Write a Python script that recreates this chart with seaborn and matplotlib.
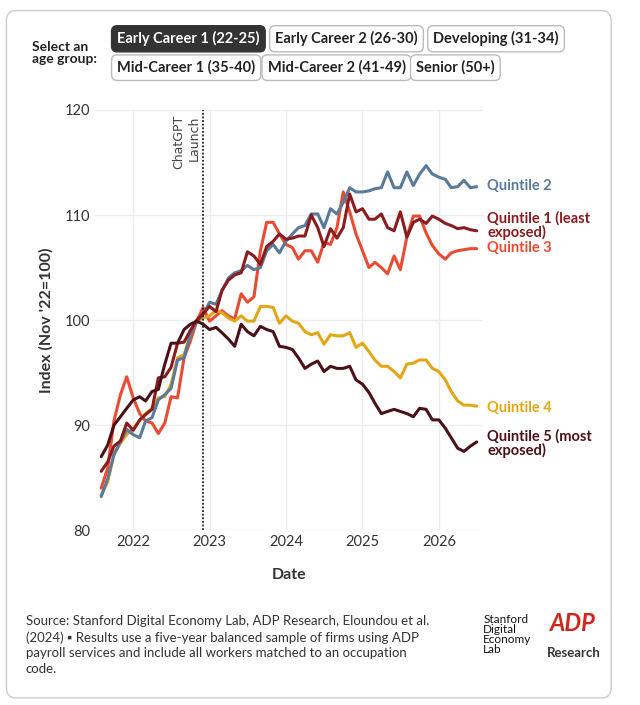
import numpy as np
import pandas as pd
import matplotlib.pyplot as plt
import seaborn as sns
from matplotlib.patches import FancyBboxPatch

# Monthly index values, Aug 2021 - Jul 2026
q1 = [85.6, 86.5, 88.0, 88.5, 90.2, 89.5, 90.5, 91.0, 91.5, 94.5,
      94.6, 95.5, 97.8, 97.9, 99.0, 100.0, 100.6, 101.3, 100.8, 102.8,
      103.8, 104.3, 104.5, 106.5, 106.1, 105.3, 107.0, 107.5, 108.2, 107.7,
      107.8, 108.0, 108.0, 110.0, 108.8, 107.0, 108.7, 107.8, 108.8, 112.0,
      110.3, 110.6, 109.6, 109.6, 110.1, 108.8, 108.5, 110.3, 107.9, 109.3,
      109.6, 109.2, 109.9, 109.6, 109.2, 109.0, 108.7, 108.8, 108.6, 108.5]
q2 = [83.2, 84.9, 87.2, 88.4, 89.6, 89.1, 88.8, 90.4, 90.7, 92.4,
      92.9, 93.5, 96.2, 96.4, 98.6, 99.9, 100.5, 101.7, 101.5, 102.8,
      104.0, 104.5, 104.7, 105.2, 104.8, 105.0, 106.6, 107.2, 106.4, 107.5,
      108.2, 108.8, 109.0, 110.1, 110.1, 108.8, 110.6, 110.1, 111.2, 112.6,
      112.2, 112.2, 112.3, 112.5, 112.6, 114.1, 112.6, 112.6, 114.1, 112.8,
      113.9, 114.7, 113.9, 113.6, 113.4, 112.6, 112.7, 113.3, 112.6, 112.7]
q3 = [84.0, 85.9, 90.4, 92.9, 94.6, 92.6, 91.1, 90.4, 90.2, 89.2,
      90.2, 92.7, 92.6, 96.4, 98.0, 99.9, 101.2, 99.9, 100.4, 100.9,
      100.4, 100.1, 102.5, 101.7, 102.2, 106.6, 109.3, 109.3, 108.2, 107.2,
      106.9, 105.8, 106.6, 106.6, 105.5, 107.4, 107.2, 108.8, 112.2, 110.3,
      108.2, 106.6, 105.0, 105.5, 105.0, 104.4, 106.1, 104.8, 107.9, 109.9,
      109.9, 108.3, 107.1, 106.3, 105.8, 106.4, 106.6, 106.7, 106.8, 106.8]
q4 = [83.3, 84.6, 87.2, 88.3, 89.1, 89.7, 90.4, 91.1, 91.6, 92.6,
      92.7, 93.9, 96.4, 96.7, 98.6, 99.9, 100.2, 100.4, 100.9, 100.7,
      100.2, 99.9, 100.4, 99.9, 99.9, 101.3, 101.3, 101.2, 99.7, 100.4,
      99.9, 99.7, 98.9, 98.6, 98.8, 97.7, 98.6, 98.5, 98.5, 98.8,
      97.4, 97.8, 97.0, 96.2, 95.6, 95.6, 95.1, 94.5, 95.8, 95.9,
      96.2, 96.2, 95.4, 95.1, 94.3, 93.2, 92.3, 91.9, 91.9, 91.8]
q5 = [87.0, 88.1, 90.0, 90.8, 91.6, 92.4, 92.7, 92.3, 93.2, 93.4,
      95.8, 97.8, 97.8, 99.1, 99.6, 99.9, 99.6, 99.1, 99.3, 98.8,
      98.2, 97.5, 99.6, 98.9, 98.5, 99.4, 99.1, 98.9, 97.5, 97.4,
      97.2, 96.4, 95.4, 95.8, 96.1, 95.1, 95.6, 95.4, 95.4, 95.6,
      94.3, 93.9, 93.1, 92.1, 91.1, 91.3, 91.5, 91.3, 91.1, 90.8,
      91.6, 91.5, 90.5, 90.5, 89.7, 88.8, 87.8, 87.5, 88.0, 88.4]

series = {"Quintile 1": q1, "Quintile 2": q2, "Quintile 3": q3,
          "Quintile 4": q4, "Quintile 5": q5}
colors = {"Quintile 1": "#8a1b1e", "Quintile 2": "#5a7a9a", "Quintile 3": "#ea4b33",
          "Quintile 4": "#e3a716", "Quintile 5": "#4a1218"}
end_labels = {"Quintile 1": ("Quintile 1 (least\nexposed)", 109.0),
              "Quintile 2": ("Quintile 2", 112.8),
              "Quintile 3": ("Quintile 3", 106.9),
              "Quintile 4": ("Quintile 4", 91.6),
              "Quintile 5": ("Quintile 5 (most\nexposed)", 88.2)}
groups_row1 = ["Early Career 1 (22-25)", "Early Career 2 (26-30)", "Developing (31-34)"]
groups_row2 = ["Mid-Career 1 (35-40)", "Mid-Career 2 (41-49)", "Senior (50+)"]

frames = []
for name, vals in series.items():
    frames.append(pd.DataFrame({"Date": pd.date_range("2021-08-01", periods=len(vals), freq="MS"),
                                "Index": vals, "Quintile": name}))
df = pd.concat(frames)

sns.set_style("white")
plt.rcParams["font.family"] = ["Lato", "DejaVu Sans"]

fig = plt.figure(figsize=(6.4, 7.05), dpi=100)
fig.patches.append(FancyBboxPatch((0.01, 0.01), 0.945, 0.975, boxstyle="round,pad=0,rounding_size=0.015",
                                  transform=fig.transFigure, fc="white", ec="#cccccc", lw=1, zorder=-5))
ax = fig.add_axes([0.148, 0.248, 0.607, 0.596])
ax.patch.set_alpha(0)

# draw in order so darker lines are on top
order = ["Quintile 3", "Quintile 4", "Quintile 2", "Quintile 1", "Quintile 5"]
for name in order:
    sns.lineplot(data=df[df["Quintile"] == name], x="Date", y="Index", color=colors[name],
                 lw=2.2, ax=ax, legend=False)

ax.set_ylim(80, 120)
ax.set_xlim(pd.Timestamp("2021-07-01"), pd.Timestamp("2026-08-01"))
ax.set_yticks([80, 90, 100, 110, 120])
ticks = [pd.Timestamp(f"{y}-01-01") for y in range(2022, 2027)]
ax.set_xticks(ticks)
ax.set_xticklabels([str(t.year) for t in ticks])
ax.grid(True, color="#ececec", lw=1)
for s in ax.spines.values():
    s.set_visible(False)
ax.tick_params(length=0, labelsize=10.5, colors="#333333")
ax.set_xlabel("Date", fontsize=11.5, fontweight="bold", color="#333333", labelpad=14)
ax.set_ylabel("Index (Nov '22=100)", fontsize=11.5, fontweight="bold", color="#333333", labelpad=8)

launch = pd.Timestamp("2022-11-30")
ax.axvline(launch, color="#222222", ls=(0, (1, 1)), lw=1.3)
ax.text(launch - pd.Timedelta(days=12), 119.5, "ChatGPT\nLaunch", rotation=90, ha="right", va="top",
        fontsize=9, color="#444444", family="DejaVu Sans")

for name, (label, y) in end_labels.items():
    ax.text(pd.Timestamp("2026-08-20"), y, label, color=colors[name], fontsize=10.5, fontweight="bold",
            va="center", ha="left", linespacing=0.95, clip_on=False)

# age group selector
fig.text(0.05, 0.925, "Select an\nage group:", fontsize=10, fontweight="bold", color="#222222",
         va="center", linespacing=1.0)
xs1 = [0.183, 0.43, 0.677]
for i, (x, g) in enumerate(zip(xs1, groups_row1)):
    active = i == 0
    fig.text(x, 0.945, g, fontsize=10.5, fontweight="bold", color="white" if active else "#222222",
             va="center", bbox=dict(boxstyle="round,pad=0.38", fc="#333333" if active else "white",
                                    ec="#333333" if active else "#bbbbbb"))
xs2 = [0.183, 0.418, 0.65]
for x, g in zip(xs2, groups_row2):
    fig.text(x, 0.904, g, fontsize=10.5, fontweight="bold", color="#222222", va="center",
             bbox=dict(boxstyle="round,pad=0.38", fc="white", ec="#bbbbbb"))

fig.text(0.04, 0.085, "Source: Stanford Digital Economy Lab, ADP Research, Eloundou et al.\n"
         "(2024) \u25aa Results use a five-year balanced sample of firms using ADP\n"
         "payroll services and include all workers matched to an occupation\ncode.",
         fontsize=9.5, color="#333333", va="center", linespacing=1.35)
fig.text(0.755, 0.1, "Stanford\nDigital\nEconomy\nLab", fontsize=8.5, color="#111111", va="center",
         linespacing=0.9)
fig.text(0.86, 0.115, "ADP", fontsize=17, fontweight="bold", color="#d0271d", va="center", style="italic")
fig.text(0.855, 0.074, "Research", fontsize=9.5, fontweight="bold", color="#333333", va="center")

fig.savefig("out.png", dpi=100)
